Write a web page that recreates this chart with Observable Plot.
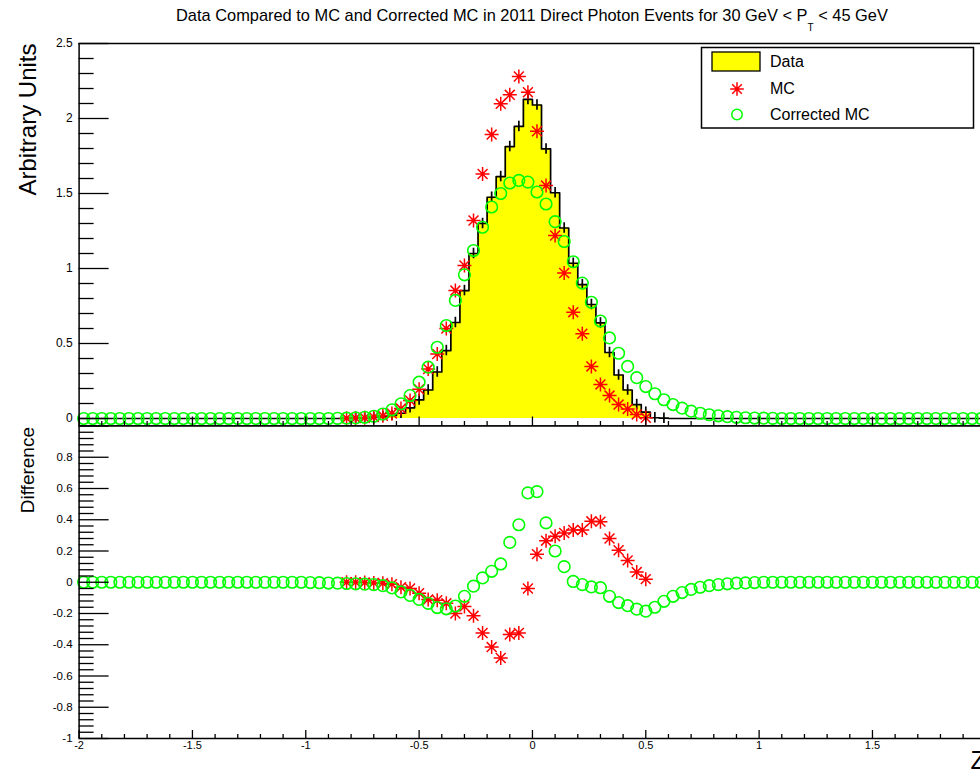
<!DOCTYPE html>
<html>
<head>
<meta charset="utf-8">
<script src="https://cdn.jsdelivr.net/npm/d3@7"></script>
<script src="https://cdn.jsdelivr.net/npm/@observablehq/plot@0.6"></script>
<style>
  html, body { margin:0; padding:0; background:#fff; overflow:hidden; }
  #wrap { position:relative; width:980px; height:769px; overflow:hidden; background:#fff; }
  #wrap > svg { position:absolute; left:0; }
</style>
</head>
<body>
<div id="wrap"></div>
<script>
const FONT = '"Liberation Sans", Arial, Helvetica, sans-serif';

// ---------- data ----------
const binLow = -2;
const binWidth = 0.04;

const dataValues = [
  0,0,0,0,0,0,0,0,0,0,
  0,0,0,0,0,0,0,0,0,0,
  0,0,0,0,0,0,0,0,0,0,
  0.002,0.004,0.007,0.012,0.02,0.035,0.071,0.124,0.19,0.31,
  0.453,0.64,0.853,1.10,1.30,1.475,1.613,1.813,1.947,2.127,
  2.09,1.797,1.505,1.27,1.035,0.893,0.76,0.637,0.44,0.29,
  0.19,0.093,0.042,0.005,0.002,0,0,0,0,0,
  0,0,0,0,0,0,0,0,0,0,
  0,0,0,0,0,0,0,0,0,0,
  0,0,0,0,0,0,0,0,0,0
];
const dataError = 0.035;

const mcFirstBin = 29;
const mcValues = [
  0.002,0.003,0.005,0.01,0.018,0.033,0.066,0.12,0.195,0.33,
  0.43,0.6,0.853,1.02,1.32,1.63,1.893,2.098,2.158,2.28,
  2.175,1.915,1.553,1.22,0.97,0.709,0.565,0.347,0.227,0.153,
  0.093,0.064,0.027,0.005
];

const corrMCValues = [
  0,0,0,0,0,0,0,0,0,0,
  0,0,0,0,0,0,0,0,0,0,
  0,0,0,0,0,0,0,0,0.001,0.002,
  0.004,0.008,0.015,0.03,0.058,0.098,0.153,0.242,0.342,0.475,
  0.62,0.787,0.958,1.12,1.275,1.41,1.50,1.57,1.587,1.576,
  1.51,1.43,1.312,1.18,1.045,0.903,0.775,0.65,0.537,0.435,
  0.347,0.272,0.213,0.165,0.125,0.093,0.069,0.049,0.035,0.025,
  0.018,0.012,0.008,0.005,0.003,0.002,0.001,0,0,0,
  0,0,0,0,0,0,0,0,0,0,
  0,0,0,0,0,0,0,0,0,0
];

const mcDiffValues = [
  0,0,-0.002,-0.004,-0.006,-0.012,-0.032,-0.04,-0.07,-0.11,
  -0.115,-0.135,-0.2,-0.155,-0.215,-0.325,-0.415,-0.485,-0.335,-0.325,
  -0.04,0.18,0.266,0.295,0.315,0.335,0.335,0.39,0.388,0.28,
  0.205,0.14,0.065,0.02
];

const corrDiffValues = [
  0,0,0,0,0,0,0,0,0,0,
  0,0,0,0,0,0,0,0,0,0,
  0,0,0,0,0,-0.002,-0.003,-0.005,-0.006,-0.008,
  -0.01,-0.012,-0.015,-0.022,-0.036,-0.062,-0.084,-0.11,-0.135,-0.162,
  -0.17,-0.152,-0.09,-0.025,0.028,0.07,0.117,0.255,0.368,0.572,
  0.58,0.38,0.2,0.1,0.005,-0.015,-0.03,-0.035,-0.09,-0.13,
  -0.15,-0.172,-0.185,-0.16,-0.122,-0.09,-0.066,-0.046,-0.032,-0.022,
  -0.015,-0.01,-0.006,-0.004,-0.002,0,0,0,0,0,
  0,0,0,0,0,0,0,0,0,0,
  0,0,0,0,0,0,0,0,0,0
];

// ---------- ticks & texts ----------
const topYTicks = [0, 0.5, 1, 1.5, 2, 2.5];
const topYLabels = ["0", "0.5", "1", "1.5", "2", "2.5"];
const botYTicks = [-1, -0.8, -0.6, -0.4, -0.2, 0, 0.2, 0.4, 0.6, 0.8, 1];
const botYLabeled = [-1, -0.8, -0.6, -0.4, -0.2, 0, 0.2, 0.4, 0.6, 0.8];
const botYLabels = ["-1", "-0.8", "-0.6", "-0.4", "-0.2", "0", "0.2", "0.4", "0.6", "0.8"];
const xTicks = [-2, -1.5, -1, -0.5, 0, 0.5, 1, 1.5, 2];
const xLabeled = [-2, -1.5, -1, -0.5, 0, 0.5, 1, 1.5];
const xLabels = ["-2", "-1.5", "-1", "-0.5", "0", "0.5", "1", "1.5"];
const xMinorStep = 0.1, topYMinorStep = 0.1, botYMinorStep = 0.04;

const titleMain = "Data Compared to MC and Corrected MC in 2011 Direct Photon Events for 30 GeV < P";
const titleSub = "T";
const titleTail = " < 45 GeV";
const topYTitle = "Arbitrary Units";
const botYTitle = "Difference";
const xTitle = "Z";
const legendLabels = ["Data", "MC", "Corrected MC"];

// ---------- derived tables ----------
const nBins = dataValues.length;
const edges = d3.range(nBins + 1).map(k => binLow + k * binWidth);
const centers = d3.range(nBins).map(k => binLow + (k + 0.5) * binWidth);
const stepRows = edges.map((e, k) => ({x: e, y: dataValues[Math.min(k, nBins - 1)]}));
const errRows = centers.map((c, i) => ({x: c, v: dataValues[i]}))
  .filter(d => d.v > 0).map(d => ({x: d.x, lo: d.v - dataError, hi: d.v + dataError}));
const mcRows = mcValues.map((v, j) => ({x: centers[mcFirstBin + j], y: v}));
const corrRows = corrMCValues.map((v, i) => ({x: centers[i], y: v}));
const mcDiffRows = mcDiffValues.map((v, j) => ({x: centers[mcFirstBin + j], y: v}));
const corrDiffRows = corrDiffValues.map((v, i) => ({x: centers[i], y: v}));

function minorTicks(lo, hi, step, majors) {
  const n = Math.round((hi - lo) / step);
  return d3.range(n + 1).map(k => +(lo + k * step).toFixed(6))
    .filter(v => !majors.some(m => Math.abs(m - v) < 1e-6));
}
const xMinor = minorTicks(-2, 2, xMinorStep, xTicks);
const topYMinor = minorTicks(0, 2.5, topYMinorStep, topYTicks);
const botYMinor = minorTicks(-1, 1, botYMinorStep, botYTicks);

// ---------- geometry / style ----------
const W = 980, ML = 78.6, MR = 0;
const X_RANGE = [78.6, 985.3];
const TOP_H = 426, TOP_MT = 43, TOP_MB = 0.5;
const BOT_TOP = 425, BOT_H = 344, BOT_MT = 0.5, BOT_MB = 31;
const frameW = W - ML - MR;
const topFrameH = TOP_H - TOP_MT - TOP_MB;
const botFrameH = BOT_H - BOT_MT - BOT_MB;
const YMAJ = 30, YMIN = 15;
const STAR_R = 7, STAR_W = 1.5, CIRC_R = 5.8, CIRC_W = 1.6;

const star8 = {
  draw(ctx, size) {
    const r = Math.sqrt(size / Math.PI), d = r * Math.SQRT1_2;
    ctx.moveTo(-r, 0); ctx.lineTo(r, 0);
    ctx.moveTo(0, -r); ctx.lineTo(0, r);
    ctx.moveTo(-d, -d); ctx.lineTo(d, d);
    ctx.moveTo(-d, d); ctx.lineTo(d, -d);
  }
};
const svgStyle = {background: "transparent", overflow: "hidden", fontFamily: FONT, color: "#000"};
const fmt = (ticks, labels) => d => labels[ticks.findIndex(t => Math.abs(t - d) < 1e-9)];

// ---------- top panel ----------
const topPlot = Plot.plot({
  width: W, height: TOP_H,
  marginLeft: ML, marginRight: MR, marginTop: TOP_MT, marginBottom: TOP_MB,
  style: svgStyle,
  x: {domain: [-2, 2], range: X_RANGE, axis: null},
  y: {domain: [-0.05, 2.5]},
  marks: [
    Plot.areaY(stepRows, {x: "x", y1: 0, y2: "y", curve: "step-after", fill: "#ffff00"}),
    Plot.line(stepRows, {x: "x", y: "y", curve: "step-after", stroke: "#000", strokeWidth: 1.7}),
    Plot.ruleX(errRows, {x: "x", y1: "lo", y2: "hi", stroke: "#000", strokeWidth: 1.7}),
    Plot.dot(mcRows, {x: "x", y: "y", r: STAR_R, symbol: star8, fill: "none", stroke: "#ff0000", strokeWidth: STAR_W}),
    Plot.dot(corrRows, {x: "x", y: "y", r: CIRC_R, symbol: "circle", fill: "none", stroke: "#00ff00", strokeWidth: CIRC_W}),
    Plot.ruleX([-2], {stroke: "#000", strokeWidth: 1.5}),
    Plot.ruleY([2.5], {stroke: "#000", strokeWidth: 1.5}),
    Plot.ruleY([-0.05], {stroke: "#000", strokeWidth: 1.5}),
    Plot.tickY(topYMinor, {y: d => d, insetRight: frameW - YMIN, stroke: "#000", strokeWidth: 1.3}),
    Plot.tickY(topYTicks, {y: d => d, insetRight: frameW - YMAJ, stroke: "#000", strokeWidth: 1.3}),
    Plot.tickX(xMinor, {x: d => d, insetTop: topFrameH - 4.5, stroke: "#000", strokeWidth: 1.3}),
    Plot.tickX(xTicks, {x: d => d, insetTop: topFrameH - 9, stroke: "#000", strokeWidth: 1.3}),
    Plot.axisY({ticks: topYTicks, tickSize: 0, tickPadding: 6.5, tickFormat: fmt(topYTicks, topYLabels), label: null, fontSize: 12}),
    Plot.text([topYTitle], {frameAnchor: "top-left", text: d => d, rotate: -90, textAnchor: "end", lineAnchor: "bottom", dx: 35 - ML, dy: 0, fontSize: 24, fill: "#000"})
  ]
});
topPlot.style.top = "0px";
topPlot.style.maxWidth = "none";

// ---------- bottom panel ----------
const botPlot = Plot.plot({
  width: W, height: BOT_H,
  marginLeft: ML, marginRight: MR, marginTop: BOT_MT, marginBottom: BOT_MB,
  style: svgStyle,
  x: {domain: [-2, 2], range: X_RANGE},
  y: {domain: [-1, 1]},
  marks: [
    Plot.dot(mcDiffRows, {x: "x", y: "y", r: STAR_R, symbol: star8, fill: "none", stroke: "#ff0000", strokeWidth: STAR_W}),
    Plot.dot(corrDiffRows, {x: "x", y: "y", r: CIRC_R, symbol: "circle", fill: "none", stroke: "#00ff00", strokeWidth: CIRC_W}),
    Plot.ruleX([-2], {stroke: "#000", strokeWidth: 1.5}),
    Plot.ruleY([1], {stroke: "#000", strokeWidth: 1.5}),
    Plot.ruleY([-1], {stroke: "#000", strokeWidth: 1.5}),
    Plot.tickY(botYMinor, {y: d => d, insetRight: frameW - YMIN, stroke: "#000", strokeWidth: 1.3}),
    Plot.tickY(botYTicks, {y: d => d, insetRight: frameW - YMAJ, stroke: "#000", strokeWidth: 1.3}),
    Plot.tickX(xMinor, {x: d => d, insetTop: botFrameH - 4, stroke: "#000", strokeWidth: 1.3}),
    Plot.tickX(xTicks, {x: d => d, insetTop: botFrameH - 8, stroke: "#000", strokeWidth: 1.3}),
    Plot.axisY({ticks: botYLabeled, tickSize: 0, tickPadding: 6.5, tickFormat: fmt(botYLabeled, botYLabels), label: null, fontSize: 11.5}),
    Plot.axisX({ticks: xLabeled, tickSize: 0, tickPadding: 3, tickFormat: fmt(xLabeled, xLabels), label: null, fontSize: 11}),
    Plot.text([botYTitle], {frameAnchor: "top-left", text: d => d, rotate: -90, textAnchor: "end", lineAnchor: "bottom", dx: 33 - ML, dy: 1, fontSize: 19, fill: "#000"}),
    Plot.text([xTitle], {frameAnchor: "bottom-right", text: d => d, textAnchor: "end", lineAnchor: "bottom", dx: 5.3, dy: 30, fontSize: 25, fill: "#000"})
  ]
});
botPlot.style.top = BOT_TOP + "px";
botPlot.style.maxWidth = "none";

// ---------- overlay: title + legend ----------
const ov = d3.create("svg").attr("width", W).attr("height", 769)
  .style("top", "0px").style("pointer-events", "none")
  .attr("font-family", FONT);

const t = ov.append("text").attr("x", (X_RANGE[0] + X_RANGE[1]) / 2).attr("y", 21)
  .attr("text-anchor", "middle").attr("font-size", 16.4).attr("fill", "#000");
t.append("tspan").text(titleMain);
t.append("tspan").attr("font-size", 10).attr("dy", 10).text(titleSub);
t.append("tspan").attr("dy", -10).text(titleTail);

const lg = ov.append("g");
lg.append("rect").attr("x", 701.5).attr("y", 47.5).attr("width", 272).attr("height", 80.5)
  .attr("fill", "#fff").attr("stroke", "#000").attr("stroke-width", 1.5);
lg.append("rect").attr("x", 712).attr("y", 52).attr("width", 48).attr("height", 19)
  .attr("fill", "#ffff00").attr("stroke", "#000").attr("stroke-width", 1.3);
const sp = d3.path(); star8.draw(sp, Math.PI * 6.8 * 6.8);
lg.append("path").attr("transform", "translate(737,89)").attr("d", sp.toString())
  .attr("fill", "none").attr("stroke", "#ff0000").attr("stroke-width", 1.5);
lg.append("circle").attr("cx", 737).attr("cy", 114.5).attr("r", 5.2)
  .attr("fill", "none").attr("stroke", "#00ff00").attr("stroke-width", 1.5);
[67, 94, 120].forEach((y, i) => {
  lg.append("text").attr("x", 770).attr("y", y).attr("font-size", 16).attr("fill", "#000").text(legendLabels[i]);
});

const wrap = document.getElementById("wrap");
wrap.appendChild(topPlot);
wrap.appendChild(botPlot);
wrap.appendChild(ov.node());
</script>
</body>
</html>
